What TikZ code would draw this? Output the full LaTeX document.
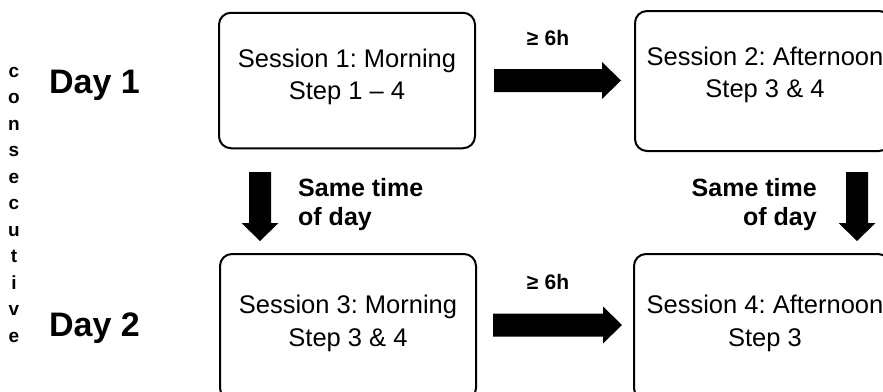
\documentclass[tikz,border=0pt]{standalone}
\usepackage{fontspec}
\setmainfont{Liberation Sans}
\usetikzlibrary{calc}
\frenchspacing
% horizontal block arrow from #1 (tail) to #2 (tip)
\newcommand{\hblock}[2]{\fill ($(#1)+(0,-11.5)$) -- ($(#2)+(-19,-11.5)$) -- ($(#2)+(-19,-18.5)$) -- (#2) -- ($(#2)+(-19,18.5)$) -- ($(#2)+(-19,11.5)$) -- ($(#1)+(0,11.5)$) -- cycle;}
% vertical block arrow from #1 (tail) to #2 (tip), pointing down
\newcommand{\vblock}[2]{\fill ($(#1)+(-11,0)$) -- ($(#2)+(-11,-18)$) -- ($(#2)+(-18.5,-18)$) -- (#2) -- ($(#2)+(18.5,-18)$) -- ($(#2)+(11,-18)$) -- ($(#1)+(11,0)$) -- cycle;}
\begin{document}
\begin{tikzpicture}[x=1pt,y=-1pt,
  sessbox/.style={draw=black, line width=2pt, rounded corners=12pt, inner sep=0pt},
  boxtext/.style={inner sep=0pt, anchor=base, font=\fontsize{25.5}{30}\selectfont},
  daytext/.style={inner sep=0pt, anchor=base west, font=\fontsize{34}{40}\selectfont\bfseries},
  gaptext/.style={inner sep=0pt, anchor=base, font=\fontsize{21}{24}\selectfont\bfseries},
  sametext/.style={inner sep=0pt, font=\fontsize{25}{30}\selectfont\bfseries},
  constext/.style={inner sep=0pt, anchor=base, font=\fontsize{19}{20}\selectfont\bfseries}]
\useasboundingbox (0,0) rectangle (883,391);
\fill[white] (0,0) rectangle (883,391);
\clip (0,0) rectangle (883,391);

% boxes
\node[sessbox, minimum width=256pt, minimum height=135.5pt] (s1) at (347,80.5) {};
\node[sessbox, minimum width=256pt, minimum height=140pt] (s2) at (763,81) {};
\node[sessbox, minimum width=256pt, minimum height=146pt] (s3) at (348,327) {};
\node[sessbox, minimum width=256pt, minimum height=146pt] (s4) at (762,327) {};

% box texts
\node[boxtext] (s1a) at (347,67) {Session 1: Morning};
\node[boxtext] (s1b) at (347,99) {Step 1 -- 4};
\node[boxtext] (s2a) at (765,65) {Session 2: Afternoon};
\node[boxtext] (s2b) at (765,97) {Step 3 \& 4};
\node[boxtext] (s3a) at (348,313) {Session 3: Morning};
\node[boxtext] (s3b) at (348,346) {Step 3 \& 4};
\node[boxtext] (s4a) at (765,313) {Session 4: Afternoon};
\node[boxtext] (s4b) at (765,346) {Step 3};

% day labels
\node[daytext] (d1) at (49,93) {Day 1};
\node[daytext] (d2) at (49,336) {Day 2};

% vertical word
\foreach \ch [count=\i] in {c,o,n,s,e,c,u,t,i,v,e}
  \node[constext] (cons\i) at (14,{77+(\i-1)*26.5}) {\ch};

% gap labels
\node[gaptext] (g1) at (548,45) {≥\hspace{0.3em}6h};
\node[gaptext] (g2) at (548,289) {≥\hspace{0.3em}6h};

% same time labels
\node[sametext, anchor=base west] (l1a) at (298,196) {Same time};
\node[sametext, anchor=base west] (l1b) at (298,225) {of day};
\node[sametext, anchor=base east] (l2a) at (817,196) {Same time};
\node[sametext, anchor=base east] (l2b) at (817,225) {of day};

% arrow end points
\coordinate (h1a) at ([xshift=18pt]s1.east);
\coordinate (h1b) at ([xshift=-13pt]s2.west |- h1a);
\coordinate (h2a) at (493,325);
\coordinate (h2b) at (622,325);
\coordinate (v1a) at (260,172);
\coordinate (v1b) at (260,241);
\coordinate (v2a) at (857,172);
\coordinate (v2b) at (857,241);

\hblock{h1a}{h1b}
\hblock{h2a}{h2b}
\vblock{v1a}{v1b}
\vblock{v2a}{v2b}
\end{tikzpicture}
\end{document}
